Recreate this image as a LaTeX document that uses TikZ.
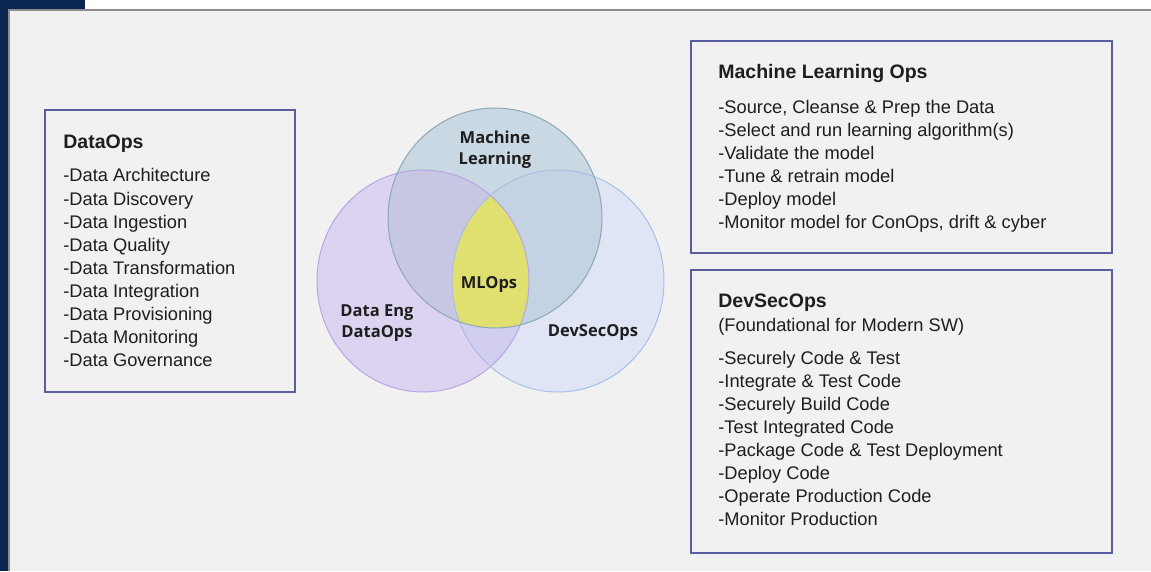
\documentclass[tikz,border=0pt]{standalone}
\usepackage{fontspec}
\setmainfont{Liberation Sans}
\newfontfamily\vennfont{Open Sans}
\usetikzlibrary{positioning}

\definecolor{navy}{HTML}{0A2550}
\definecolor{panel}{HTML}{F1F1F1}
\definecolor{rim}{HTML}{8C8C8C}
\definecolor{boxline}{HTML}{5C5CA0}
\definecolor{ink}{HTML}{1E1E1E}
% venn region colours
\definecolor{mlfill}{HTML}{C9D8E2}
\definecolor{defill}{HTML}{DCD3F0}
\definecolor{dsfill}{HTML}{DFE5F4}
\definecolor{mldefill}{HTML}{C7C7E4}
\definecolor{mldsfill}{HTML}{C3D3E3}
\definecolor{dedsfill}{HTML}{D1CEF0}
\definecolor{corefill}{HTML}{E0E070}
\definecolor{mlline}{HTML}{8DA8BA}
\definecolor{deline}{HTML}{B7A6E6}
\definecolor{dsline}{HTML}{A9BFE8}

\newcommand{\mlcircle}{(mlc) ellipse [x radius=2.14cm, y radius=2.20cm]}
\newcommand{\decircle}{(dec) ellipse [x radius=2.12cm, y radius=2.22cm]}
\newcommand{\dscircle}{(dsc) ellipse [x radius=2.12cm, y radius=2.22cm]}

\begin{document}
\begin{tikzpicture}[
  panelbox/.style={rectangle, draw=boxline, line width=0.04cm, inner sep=0pt},
  heading/.style={font=\fontsize{11.1}{13.1}\selectfont\bfseries, text=ink, anchor=base west, inner sep=0pt, align=left},
  items/.style={font=\fontsize{10.4}{13.1}\selectfont, text=ink, inner sep=0pt, align=left},
  venn/.style={font=\vennfont\bfseries\fontsize{9.4}{12}\selectfont, text=ink, inner sep=0pt, align=center}
]
  \useasboundingbox (0,0) rectangle (23.02,11.42);
  % frame
  \fill[white] (0,0) rectangle (23.02,11.42);
  \fill[panel] (0.17,0) rectangle (23.02,11.22);
  \fill[navy] (0,0) rectangle (0.16,11.42);
  \fill[navy] (0,11.24) rectangle (1.70,11.42);
  \draw[rim, line width=0.04cm] (0.18,0) |- (23.02,11.22);

  % venn diagram
  \coordinate (mlc) at (9.90, 7.06);
  \coordinate (dec) at (8.46, 5.80);
  \coordinate (dsc) at (11.16, 5.80);
  \fill[defill] \decircle;
  \fill[dsfill] \dscircle;
  \fill[mlfill] \mlcircle;
  \begin{scope}
    \clip \decircle;
    \fill[dedsfill] \dscircle;
  \end{scope}
  \begin{scope}
    \clip \mlcircle;
    \fill[mldefill] \decircle;
  \end{scope}
  \begin{scope}
    \clip \mlcircle;
    \fill[mldsfill] \dscircle;
  \end{scope}
  \begin{scope}
    \clip \mlcircle;
    \clip \decircle;
    \fill[corefill] \dscircle;
  \end{scope}
  \draw[deline, line width=0.02cm] \decircle;
  \draw[dsline, line width=0.02cm] \dscircle;
  \draw[mlline, line width=0.02cm] \mlcircle;

  \node[venn] (mllabel) at (9.90, 8.42) {Machine\\Learning};
  \node[venn] (corelabel) at (9.78, 5.74) {MLOps};
  \node[venn] (delabel) at (7.54, 4.96) {Data Eng\\DataOps};
  \node[venn] (dslabel) at (11.86, 4.78) {DevSecOps};

  % text panels
  \node[panelbox, minimum width=5.00cm, minimum height=5.64cm] (dobox) at (3.40, 6.40) {};
  \node[panelbox, minimum width=8.42cm, minimum height=4.24cm] (mlbox) at (18.03, 8.48) {};
  \node[panelbox, minimum width=8.42cm, minimum height=5.66cm] (dsbox) at (18.03, 3.19) {};

  \node[heading] (dotitle) at (1.26, 8.44) {DataOps};
  \node[items, below=0.30 of dotitle.south west, anchor=north west] (dolist) {-Data Architecture\\-Data Discovery\\-Data Ingestion\\-Data Quality\\-Data Transformation\\-Data Integration\\-Data Provisioning\\-Data Monitoring\\-Data Governance};

  \node[heading] (mltitle) at (14.36, 9.84) {Machine Learning Ops};
  \node[items, below=0.32 of mltitle.south west, anchor=north west] (mllist) {-Source, Cleanse \& Prep the Data\\-Select and run learning algorithm(s)\\-Validate the model\\-Tune \& retrain model\\-Deploy model\\-Monitor model for ConOps, drift \& cyber};

  % base of a two-line heading sits on its last line
  \node[heading] (dstitle) at (14.36, 4.80) {DevSecOps\\{\mdseries\fontsize{10.4}{13.1}\selectfont(Foundational for Modern SW)}};
  \node[items, below=0.31 of dstitle.south west, anchor=north west] (dslist) {-Securely Code \& Test\\-Integrate \& Test Code\\-Securely Build Code\\-Test Integrated Code\\-Package Code \& Test Deployment\\-Deploy Code\\-Operate Production Code\\-Monitor Production};
\end{tikzpicture}
\end{document}
